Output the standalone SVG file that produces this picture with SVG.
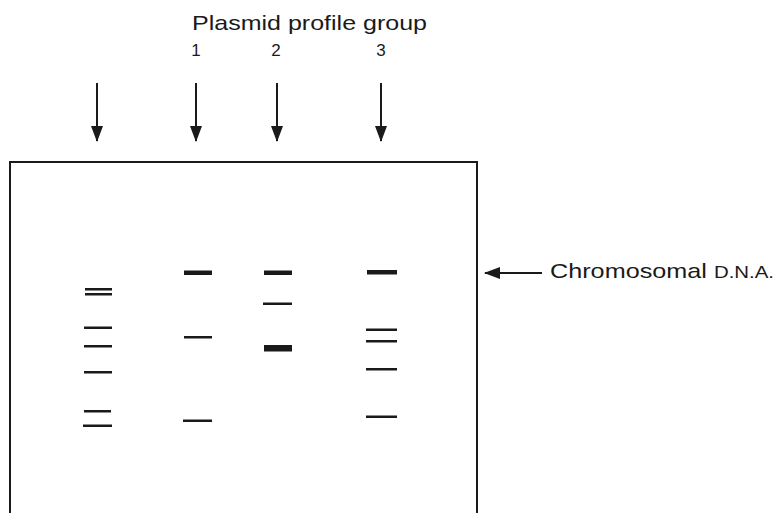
<svg xmlns="http://www.w3.org/2000/svg" width="777" height="513" viewBox="0 0 777 513">
<style>
.lbl{font-family:"Liberation Sans",Arial,sans-serif;fill:#1a1a1a}
.ln{stroke:#1a1a1a;stroke-width:2;fill:none}
.band{fill:#1a1a1a}
</style>
<defs>
<marker id="ah" markerWidth="16" markerHeight="12" refX="15" refY="6" orient="auto" markerUnits="userSpaceOnUse">
<path d="M0,0 L16,6 L0,12 Z" fill="#1a1a1a"/>
</marker>
</defs>
<rect width="777" height="513" fill="#fff"/>
<g id="title">
<text class="lbl" x="192" y="30" font-size="21" textLength="235" lengthAdjust="spacingAndGlyphs">Plasmid profile group</text>
<text class="lbl" x="196" y="56" font-size="17" text-anchor="middle">1</text>
<text class="lbl" x="276" y="56" font-size="17" text-anchor="middle">2</text>
<text class="lbl" x="381" y="56" font-size="17" text-anchor="middle">3</text>
</g>
<g id="connectors">
<line class="ln" x1="97" y1="83" x2="97" y2="141" marker-end="url(#ah)"/>
<line class="ln" x1="196" y1="83" x2="196" y2="141" marker-end="url(#ah)"/>
<line class="ln" x1="277" y1="83" x2="277" y2="141" marker-end="url(#ah)"/>
<line class="ln" x1="381" y1="83" x2="381" y2="141" marker-end="url(#ah)"/>
<line class="ln" x1="542" y1="273" x2="485" y2="273" marker-end="url(#ah)"/>
</g>
<g id="gel">
<rect class="ln" x="10" y="162" width="467" height="370"/>
</g>
<g id="lane0">
<rect class="band" x="85" y="288" width="27" height="2.5"/>
<rect class="band" x="85" y="293" width="27" height="2.5"/>
<rect class="band" x="84" y="326.5" width="28" height="2.5"/>
<rect class="band" x="84" y="345" width="28" height="2.5"/>
<rect class="band" x="84" y="371" width="28" height="2.5"/>
<rect class="band" x="84" y="410" width="27" height="2.5"/>
<rect class="band" x="83" y="424.5" width="29" height="2.5"/>
</g>
<g id="lane1">
<rect class="band" x="184" y="270.5" width="28" height="4.5"/>
<rect class="band" x="184" y="336" width="28" height="2.5"/>
<rect class="band" x="183" y="419.5" width="29" height="2.5"/>
</g>
<g id="lane2">
<rect class="band" x="264" y="270.5" width="28" height="4.5"/>
<rect class="band" x="263" y="302.5" width="29" height="2.5"/>
<rect class="band" x="264" y="345" width="28" height="6.5"/>
</g>
<g id="lane3">
<rect class="band" x="367" y="270" width="30" height="4.5"/>
<rect class="band" x="366" y="328.5" width="31" height="2.5"/>
<rect class="band" x="366" y="340" width="31" height="2.5"/>
<rect class="band" x="366" y="368" width="31" height="2.5"/>
<rect class="band" x="366" y="415.5" width="31" height="2.5"/>
</g>
<g id="label-chromosomal">
<text class="lbl" x="550" y="278" font-size="21" textLength="224" lengthAdjust="spacingAndGlyphs">Chromosomal <tspan font-size="17">D.N.A.</tspan></text>
</g>
</svg>
